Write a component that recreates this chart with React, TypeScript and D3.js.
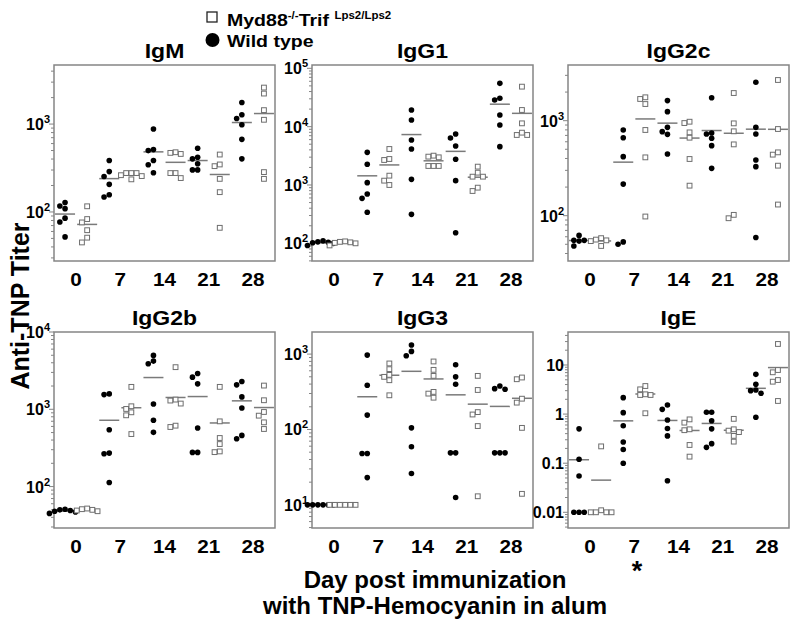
import * as d3 from "d3";
import { useEffect, useRef } from "react";

// days on the x axis, two strains per day
const days = ["0", "7", "14", "21", "28"];
const strains = ["wt", "myd"];

// titers read per day (rows) for each isotype
const igmWT = [
  [128, 117, 109, 85, 77, 52],
  [385, 288, 253, 206, 157, 148],
  [878, 512, 499, 385, 344, 279],
  [531, 420, 402, 353, 301, 301],
  [1758, 1276, 1159, 983, 670, 402],
];
const igmMyd = [
  [116, 83, 76, 62, 51, 45],
  [277, 277, 277, 256, 235, 262],
  [478, 470, 457, 277, 243, 277],
  [450, 347, 332, 238, 168, 66],
  [2600, 2224, 1440, 1119, 284, 238],
];
const igg1WT = [
  [110, 106, 102, 104, 92, 100],
  [3630, 2261, 1096, 701, 590, 340],
  [19300, 13000, 5900, 4140, 1250, 314],
  [7480, 6390, 4660, 2760, 1187, 152],
  [55300, 30600, 28650, 15850, 10690, 4540],
];
const igg1Myd = [
  [108, 104, 100, 92, 102, 106],
  [4140, 2790, 2683, 1445, 1187, 1000],
  [3184, 3062, 2980, 2118, 2118, 2118],
  [2063, 1627, 1389, 1389, 900, 789],
  [48500, 19300, 11400, 7200, 7200, 7890],
];
const igg2cWT = [
  [62, 55, 54, 55, 48],
  [798, 662, 418, 215, 53, 50],
  [1626, 1245, 851, 766, 718, 446],
  [1746, 742, 725, 652, 546, 315],
  [2535, 851, 725, 385, 328, 59],
];
const igg2cMyd = [
  [56, 55, 58, 48, 54],
  [1762, 1692, 1497, 798, 411, 98],
  [975, 944, 753, 662, 395, 207],
  [1954, 937, 773, 563, 102, 94],
  [2680, 817, 464, 439, 336, 131],
];
const igg2bWT = [
  [50, 48, 51, 45, 49, 47],
  [1582, 1550, 544, 271, 266, 113],
  [4977, 4200, 3877, 1172, 720, 503],
  [2904, 2604, 2134, 572, 277, 277],
  [2286, 2070, 1446, 1040, 459, 416],
];
const igg2bMyd = [
  [50, 48, 52, 49, 51],
  [1950, 1094, 1010, 914, 836, 478],
  [3508, 1335, 1297, 1186, 614, 590],
  [1950, 698, 425, 355, 285, 279],
  [2027, 1309, 923, 827, 678, 556],
];
const igg3WT = [
  [10, 10, 10, 10, 10, 10],
  [970, 386, 155, 48, 48, 23],
  [1318, 1086, 951, 105, 59, 26],
  [721, 499, 398, 49, 49, 12.5],
  [378, 348, 341, 49, 49, 49],
];
const igg3Myd = [
  [10, 10, 10, 10, 10, 10],
  [751, 631, 530, 499, 450, 284],
  [798, 618, 514, 315, 299, 264],
  [514, 334, 170, 158, 111, 13],
  [489, 464, 256, 227, 105, 14],
];
const igeWT = [
  [0.5, 0.12, 0.055, 0.01, 0.01, 0.01],
  [2.16, 1.07, 0.58, 0.27, 0.19, 0.1],
  [1.53, 1.25, 0.76, 0.51, 0.36, 0.044],
  [1.09, 1.09, 0.73, 0.5, 0.25, 0.21],
  [6.45, 4.04, 3.09, 3.0, 2.65, 0.86],
];
const igeMyd = [
  [0.22, 0.011, 0.01, 0.01, 0.01, 0.01],
  [3.73, 3.19, 2.53, 2.45, 2.45, 1.04],
  [0.78, 0.67, 0.49, 0.47, 0.235, 0.136],
  [0.8, 0.49, 0.46, 0.43, 0.36, 0.275],
  [26.8, 7.9, 7.1, 4.94, 4.57, 1.85],
];

const igeTicks = [0.01, 0.1, 1, 10];
const igeTickLabels = ["0.01", "0.1", "1", "10"];

const panels = [
  { title: "IgM", wt: igmWT, myd: igmMyd, domain: [10 ** 1.442, 10 ** 3.672], ticks: [100, 1000] },
  { title: "IgG1", wt: igg1WT, myd: igg1Myd, domain: [10 ** 1.697, 10 ** 5.057], ticks: [100, 1000, 10000, 100000] },
  { title: "IgG2c", wt: igg2cWT, myd: igg2cMyd, domain: [10 ** 1.523, 10 ** 3.586], ticks: [100, 1000] },
  { title: "IgG2b", wt: igg2bWT, myd: igg2bMyd, domain: [10 ** 1.464, 10 ** 4.0], ticks: [100, 1000, 10000] },
  { title: "IgG3", wt: igg3WT, myd: igg3Myd, domain: [10 ** 0.693, 10 ** 3.293], ticks: [10, 100, 1000] },
  { title: "IgE", wt: igeWT, myd: igeMyd, domain: [10 ** -2.32, 10 ** 1.672], ticks: igeTicks, labels: igeTickLabels },
];

const colX = [54, 312, 568];
const rowY = [65, 332];
const PW = 221;
const PH = 196;
const FONT = "'Liberation Sans', Arial, Helvetica, sans-serif";
const GREY = "#858585";
const STRETCH = 1.15;

// spread points of one group sideways when they would overlap
function dodge(vals, y, step = 5.2) {
  const placed = [];
  [...vals].sort((a, b) => b - a).forEach(v => {
    const py = y(v);
    for (const k of [0, -1, 1, -2, 2, -3, 3]) {
      const dx = k * step;
      if (placed.every(q => Math.hypot(q.dx - dx, q.py - py) >= step)) {
        placed.push({ v, py, dx });
        return;
      }
    }
  });
  return placed;
}

function stretchedText(parent, x, y, txt, size, anchor = "middle") {
  return parent.append("text")
    .attr("transform", `translate(${x},${y}) scale(${STRETCH},1)`)
    .attr("text-anchor", anchor)
    .attr("font-family", FONT)
    .attr("font-weight", "bold")
    .attr("font-size", size)
    .text(txt);
}

export default function App() {
  const ref = useRef(null);

  useEffect(() => {
    const svg = d3.select(ref.current);
    svg.selectAll("*").remove();
    svg.append("rect").attr("width", 800).attr("height", 624).attr("fill", "#fff");

    const groups = days.flatMap(d => strains.map(s => `${d}-${s}`));
    const x = d3.scaleBand().domain(groups).range([0, PW]);

    panels.forEach((p, i) => {
      const x0 = colX[i % 3];
      const y0 = rowY[Math.floor(i / 3)];
      const g = svg.append("g").attr("transform", `translate(${x0},${y0})`);
      const y = d3.scaleLog().domain(p.domain).range([PH, 0]);

      // title
      stretchedText(svg, x0 + PW / 2, y0 - 7, p.title, 20);

      // frame
      g.append("rect")
        .attr("width", PW).attr("height", PH)
        .attr("fill", "none").attr("stroke", GREY).attr("stroke-width", 1.5);

      // minor log ticks
      const lo = Math.floor(Math.log10(p.domain[0]));
      const hi = Math.ceil(Math.log10(p.domain[1]));
      const minor = d3.range(lo, hi + 1).flatMap(e => d3.range(1, 10).map(k => k * 10 ** e))
        .filter(v => v >= p.domain[0] && v <= p.domain[1]);
      g.selectAll(".mt").data(minor).join("line")
        .attr("x1", 0).attr("x2", v => (p.ticks.some(t => Math.abs(t - v) / t < 1e-6) ? -5 : -3))
        .attr("y1", v => y(v)).attr("y2", v => y(v))
        .attr("stroke", GREY).attr("stroke-width", 1);

      // y tick labels
      p.ticks.forEach((t, ti) => {
        const txt = g.append("text")
          .attr("x", -4).attr("y", y(t) + 6)
          .attr("text-anchor", "end")
          .attr("font-family", FONT).attr("font-weight", "bold").attr("font-size", 16);
        if (p.labels) {
          txt.text(p.labels[ti]);
        } else {
          txt.append("tspan").text("10");
          txt.append("tspan").attr("dy", -7).attr("font-size", 11).text(Math.round(Math.log10(t)));
        }
      });

      // x labels
      days.forEach(d => {
        const cx = (x(`${d}-wt`) + x(`${d}-myd`) + x.bandwidth()) / 2;
        stretchedText(g, cx, PH + 25, d, 18);
      });

      // points and mean lines
      days.forEach((d, di) => {
        strains.forEach(s => {
          const vals = (s === "wt" ? p.wt : p.myd)[di];
          const cx = x(`${d}-${s}`) + x.bandwidth() / 2;
          const m = d3.mean(vals);
          g.append("line")
            .attr("x1", cx - 10).attr("x2", cx + 10)
            .attr("y1", y(m)).attr("y2", y(m))
            .attr("stroke", "#7a7a7a").attr("stroke-width", 1.5);
          const pts = dodge(vals, y);
          if (s === "wt") {
            g.selectAll(null).data(pts).join("circle")
              .attr("cx", q => cx + q.dx).attr("cy", q => q.py).attr("r", 2.8)
              .attr("fill", "#000");
          } else {
            g.selectAll(null).data(pts).join("rect")
              .attr("x", q => cx + q.dx - 2.4).attr("y", q => q.py - 2.4)
              .attr("width", 4.8).attr("height", 4.8)
              .attr("fill", "#fff").attr("stroke", "#6e6e6e").attr("stroke-width", 1);
          }
        });
      });
    });

    // legend
    svg.append("rect").attr("x", 207).attr("y", 12).attr("width", 10).attr("height", 10)
      .attr("fill", "#fff").attr("stroke", "#222").attr("stroke-width", 1.3);
    svg.append("circle").attr("cx", 212.5).attr("cy", 40).attr("r", 7).attr("fill", "#000");
    const l1 = stretchedText(svg, 227, 26, null, 17, "start");
    l1.append("tspan").text("Myd88");
    l1.append("tspan").attr("dy", -7).attr("font-size", 10).text("-/-");
    l1.append("tspan").attr("dy", 7).text("Trif ");
    l1.append("tspan").attr("dy", -7).attr("font-size", 10).text("Lps2/Lps2");
    stretchedText(svg, 227, 47, "Wild type", 17, "start");

    // axis titles
    svg.append("text")
      .attr("transform", "translate(29,306) rotate(-90)")
      .attr("text-anchor", "middle")
      .attr("font-family", FONT).attr("font-weight", "bold").attr("font-size", 25)
      .text("Anti-TNP Titer");
    svg.append("text")
      .attr("x", 435).attr("y", 588).attr("text-anchor", "middle")
      .attr("font-family", FONT).attr("font-weight", "bold").attr("font-size", 24)
      .text("Day post immunization");
    svg.append("text")
      .attr("x", 435).attr("y", 614).attr("text-anchor", "middle")
      .attr("font-family", FONT).attr("font-weight", "bold").attr("font-size", 24)
      .text("with TNP-Hemocyanin in alum");
    svg.append("text")
      .attr("x", 637).attr("y", 580).attr("text-anchor", "middle")
      .attr("font-family", FONT).attr("font-weight", "bold").attr("font-size", 27)
      .text("*");
  }, []);

  return (
    <div style={{ position: "absolute", left: 0, top: 0 }}>
      <svg ref={ref} width={800} height={624} viewBox="0 0 800 624" />
    </div>
  );
}
